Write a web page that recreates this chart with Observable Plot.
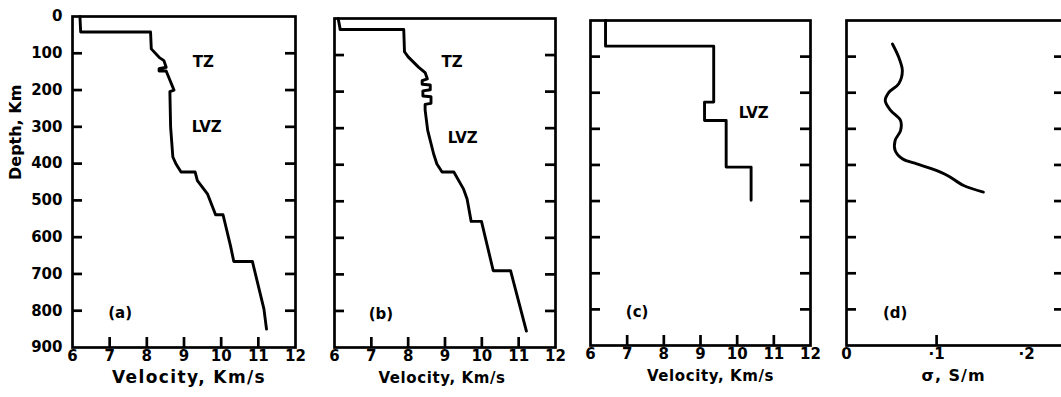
<!DOCTYPE html>
<html><head><meta charset="utf-8">
<script src="https://cdn.jsdelivr.net/npm/d3@7"></script>
<script src="https://cdn.jsdelivr.net/npm/@observablehq/plot@0.6"></script>
<style>
html,body{margin:0;padding:0;background:#fff;overflow:hidden;}
#chart{position:relative;width:1061px;height:397px;overflow:hidden;background:#fff;}
#chart svg{position:absolute;top:0;}
</style></head><body><div id="chart"></div>
<script>
// ---- tick labels ----
const velocityTicks = [6, 7, 8, 9, 10, 11, 12];
const depthTicks = [0, 100, 200, 300, 400, 500, 600, 700, 800, 900];
const sigmaTicks = [0, 0.1, 0.2];
const sigmaTickLabels = ["0", "·1", "·2"];

// ---- panel (a) velocity profile ----
const velA   = [6.2, 6.22, 8.1, 8.12, 8.33, 8.46, 8.52, 8.33, 8.33, 8.52, 8.6, 8.69, 8.73, 8.62, 8.64, 8.7, 8.79, 8.92, 9.3, 9.36, 9.63, 9.85, 10.05, 10.25, 10.34, 10.84, 11.15, 11.22];
const depthA = [0, 42, 42, 88, 111, 120, 138, 142, 148, 148, 168, 190, 200, 204, 301, 382, 402, 423, 423, 446, 482, 539, 539, 623, 666, 666, 795, 850];

// ---- panel (b) velocity profile ----
const velB   = [6.1, 6.15, 6.15, 7.88, 7.9, 8.0, 8.28, 8.46, 8.52, 8.38, 8.38, 8.6, 8.6, 8.4, 8.4, 8.62, 8.62, 8.46, 8.46, 8.53, 8.69, 8.78, 8.92, 9.24, 9.5, 9.6, 9.71, 9.99, 10.31, 10.78, 11.21];
const depthB = [0, 27, 30, 30, 91, 105, 133, 148, 165, 170, 180, 182, 195, 198, 212, 214, 232, 235, 250, 306, 370, 398, 420, 420, 466, 494, 555, 555, 690, 690, 855];

// ---- panel (c) velocity profile ----
const velC   = [6.41, 6.41, 9.36, 9.36, 9.11, 9.11, 9.7, 9.7, 10.38, 10.38];
const depthC = [0, 71, 71, 226, 226, 277, 277, 406, 406, 498];

// ---- panel (d) conductivity profile ----
const sigmaD = [0.051, 0.058, 0.062, 0.058, 0.047, 0.043, 0.049, 0.06, 0.06, 0.054, 0.054, 0.062, 0.078, 0.095, 0.112, 0.13, 0.152];
const depthD = [65, 102, 139, 175, 199, 222, 249, 277, 305, 332, 360, 383, 397, 411, 429, 457, 475];

// ---- annotations (data coordinates) ----
const notesA = [{t: "TZ", x: 9.52, y: 124}, {t: "LVZ", x: 9.61, y: 301}, {t: "(a)", x: 7.28, y: 807}];
const notesB = [{t: "TZ", x: 9.19, y: 119}, {t: "LVZ", x: 9.48, y: 327}, {t: "(b)", x: 7.26, y: 810}];
const notesC = [{t: "LVZ", x: 10.45, y: 258}, {t: "(c)", x: 7.27, y: 808}];
const notesD = [{t: "(d)", x: 0.054, y: 811}];

const FONT = "'DejaVu Sans', sans-serif";
const zip = (xs, ys) => xs.map((x, i) => ({x, y: ys[i]}));
const innerDepth = depthTicks.slice(1, -1);

function panel(o) {
  const fw = o.right - o.left, fh = o.bottom - o.top;
  const mL = o.mL, mR = 12;
  const TL = 10, SW = 2.7;
  const marks = [
    Plot.frame({stroke: "#000", strokeWidth: SW}),
    Plot.tickY(innerDepth, {y: d => d, insetRight: fw - TL, strokeWidth: SW, stroke: "#000"}),
    Plot.tickY(innerDepth, {y: d => d, insetLeft: fw - TL, strokeWidth: SW, stroke: "#000"}),
    Plot.tickX(o.xTicks.slice(1, -1).filter(v => v < o.xDomain[1]), {x: d => d, insetTop: fh - TL, strokeWidth: SW, stroke: "#000"}),
    Plot.axisX({ticks: o.xTicks, tickFormat: o.xFormat, tickSize: 0, tickPadding: 3, label: null, fontSize: 15}),
    Plot.line(o.data, {x: "x", y: "y", stroke: "#000", strokeWidth: 2.9, curve: o.curve || "linear"}),
    Plot.text(o.notes, {x: "x", y: "y", text: "t", fontSize: 15, fill: "#000"}),
    Plot.text([o.title], {frameAnchor: "bottom", dx: o.titleDx, dy: 35, fontSize: o.titleSize, fill: "#000"})
  ];
  if (o.yAxis) {
    marks.push(Plot.axisY({ticks: depthTicks, tickSize: 0, tickPadding: 10, label: null, fontSize: 15}));
    marks.push(Plot.text(["Depth, Km"], {frameAnchor: "left", rotate: -90, dx: -57, dy: -2, fontSize: 16, fill: "#000"}));
  }
  const svg = Plot.plot({
    width: mL + fw + mR,
    height: 397,
    marginLeft: mL, marginRight: mR,
    marginTop: o.top, marginBottom: 397 - o.bottom,
    x: {domain: o.xDomain},
    y: {domain: [0, 900], reverse: true, axis: o.yAxis ? undefined : null},
    style: {fontFamily: FONT, fontWeight: "bold", fontSize: "15px", background: "transparent", color: "#000", overflow: "visible"},
    marks
  });
  svg.style.left = (o.left - mL) + "px";
  d3.select(svg).selectAll("text").filter(function() { return this.textContent === o.title; })
    .style("letter-spacing", o.titleSpacing + "px");
  document.getElementById("chart").appendChild(svg);
}

panel({left: 72, right: 295, top: 16, bottom: 347, mL: 72, xDomain: [6, 12], xTicks: velocityTicks, xFormat: d => String(d),
  data: zip(velA, depthA), notes: notesA, title: "Velocity, Km/s", titleSize: 17, titleSpacing: 1.4, titleDx: 5, yAxis: true});
panel({left: 334, right: 555, top: 18, bottom: 347, mL: 20, xDomain: [6, 12], xTicks: velocityTicks, xFormat: d => String(d),
  data: zip(velB, depthB), notes: notesB, title: "Velocity, Km/s", titleSize: 15, titleSpacing: 0.6, titleDx: -3});
panel({left: 590, right: 810, top: 20, bottom: 345, mL: 20, xDomain: [6, 12], xTicks: velocityTicks, xFormat: d => String(d),
  data: zip(velC, depthC), notes: notesC, title: "Velocity, Km/s", titleSize: 15, titleSpacing: 0.6, titleDx: 10});
panel({left: 846, right: 1064, top: 20, bottom: 345, mL: 20, xDomain: [0, 0.242], xTicks: sigmaTicks, xFormat: (d, i) => sigmaTickLabels[i],
  data: zip(sigmaD, depthD), notes: notesD, title: "σ, S/m", titleSize: 16, titleSpacing: 1, titleDx: -2, curve: "catmull-rom"});
</script></body></html>
